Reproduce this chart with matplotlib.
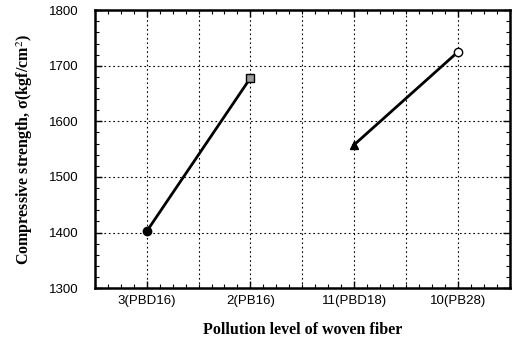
import matplotlib.pyplot as plt
from matplotlib.ticker import MultipleLocator

plt.rcParams["mathtext.fontset"] = "stix"

# data
categories = ["3(PBD16)", "2(PB16)", "11(PBD18)", "10(PB28)"]
positions = [1, 3, 5, 7]
strength = [1402, 1678, 1558, 1725]
markers = ["o", "s", "^", "o"]
marker_faces = ["black", "#9a9a9a", "black", "white"]

fig = plt.figure(figsize=(5.15, 3.39), dpi=100)
ax = fig.add_axes([0.184, 0.150, 0.806, 0.820])

# two separate line segments
ax.plot(positions[:2], strength[:2], color="black", lw=2, zorder=3)
ax.plot(positions[2:], strength[2:], color="black", lw=2, zorder=3)
for x, y, m, fc in zip(positions, strength, markers, marker_faces):
    ax.plot(x, y, marker=m, ms=6, mfc=fc, mec="black", mew=1, zorder=4)

ax.set_xlim(0, 8)
ax.set_ylim(1300, 1800)
ax.set_xticks(positions)
ax.set_xticklabels(categories)
ax.xaxis.set_minor_locator(MultipleLocator(0.25))
ax.yaxis.set_major_locator(MultipleLocator(100))
ax.yaxis.set_minor_locator(MultipleLocator(20))

# vertical grid every unit, horizontal every 100
for gx in range(1, 8):
    ax.axvline(gx, color="black", ls=(0, (1.5, 2.5)), lw=0.8, zorder=1)
ax.yaxis.grid(True, color="black", ls=(0, (1.5, 2.5)), lw=0.8)

ax.tick_params(which="both", direction="in", top=True, right=True, labelsize=9.5)
ax.tick_params(which="major", length=5, width=1, pad=5)
ax.tick_params(which="minor", length=3, width=0.8)
ax.tick_params(axis="y", pad=12)
for s in ax.spines.values():
    s.set_linewidth(1.8)

for lbl in ax.get_xticklabels() + ax.get_yticklabels():
    lbl.set_family("Liberation Sans")

ax.set_xlabel("Pollution level of woven fiber", family="Liberation Serif",
              fontweight="bold", fontsize=11.5, labelpad=11)
ax.set_ylabel("Compressive strength, σ(kgf/cm$^{2}$)", family="Liberation Serif",
              fontweight="bold", fontsize=11.5, labelpad=10)

fig.savefig("out.png", dpi=100)
